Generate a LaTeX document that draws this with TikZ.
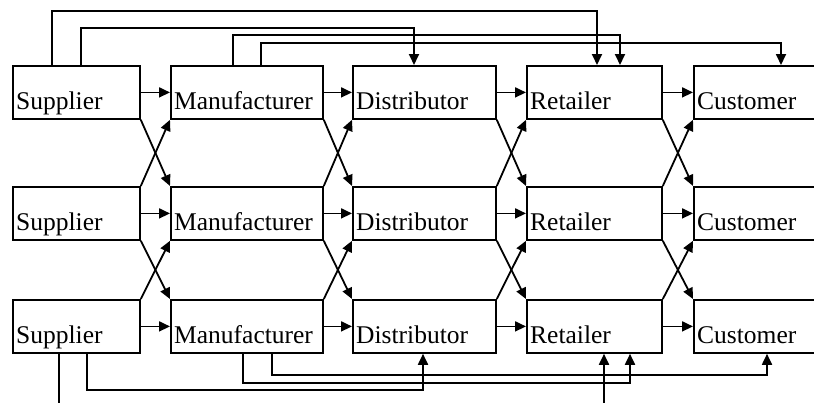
\documentclass[tikz,border=0pt]{standalone}
\usepackage{fontspec}
\setmainfont{Liberation Serif}
\usetikzlibrary{arrows.meta}
\tikzset{
  box/.style={draw, line width=1.8pt, minimum height=53pt, anchor=north west, inner sep=0pt},
  lbl/.style={anchor=base west, inner sep=0pt, font=\fontsize{25.5}{30}\selectfont},
  arr/.style={line width=1.8pt, -{Triangle[length=11pt,width=10pt]}},
}
\begin{document}
\begin{tikzpicture}[x=1pt,y=-1pt]
\clip (0,0) rectangle (814,402);
\fill[white] (0,0) rectangle (814,402);
% boxes
\foreach \r/\y in {1/65,2/186,3/299}{
  \node[box, minimum width=127pt] (s\r) at (12,\y) {};
  \node[box, minimum width=152pt] (m\r) at (170,\y) {};
  \node[box, minimum width=143pt] (d\r) at (352,\y) {};
  \node[box, minimum width=135pt] (r\r) at (526,\y) {};
  \node[box, minimum width=140pt] (c\r) at (693,\y) {};
  \node[lbl] (ts\r) at ([xshift=4pt,yshift=10.5pt]s\r.south west) {Supplier};
  \node[lbl] (tm\r) at ([xshift=4pt,yshift=10.5pt]m\r.south west) {Manufacturer};
  \node[lbl] (td\r) at ([xshift=4pt,yshift=10.5pt]d\r.south west) {Distributor};
  \node[lbl] (tr\r) at ([xshift=4pt,yshift=10.5pt]r\r.south west) {Retailer};
  \node[lbl] (tc\r) at ([xshift=4pt,yshift=10.5pt]c\r.south west) {Customer};
}
% horizontal and crossing arrows
\foreach \a/\b in {s/m,m/d,d/r,r/c}{
  \foreach \r in {1,2,3}{
    \draw[arr] (\a\r.east) -- (\b\r.west);
  }
  \draw[arr] (\a1.south east) -- (\b2.north west);
  \draw[arr] (\a2.north east) -- (\b1.south west);
  \draw[arr] (\a2.south east) -- (\b3.north west);
  \draw[arr] (\a3.north east) -- (\b2.south west);
}
% top links
\draw[arr] ([xshift=40pt]s1.north west) -- ++(0,-54) -| ([xshift=71pt]r1.north west);
\draw[arr] ([xshift=69pt]s1.north west) -- ++(0,-37) -| ([xshift=62pt]d1.north west);
\draw[arr] ([xshift=63pt]m1.north west) -- ++(0,-30) -| ([xshift=94pt]r1.north west);
\draw[arr] ([xshift=91pt]m1.north west) -- ++(0,-22) -| ([xshift=88pt]c1.north west);
% bottom links
\draw[arr] ([xshift=47pt]s3.south west) -- ++(0,67) -| ([xshift=78pt]r3.south west);
\draw[arr] ([xshift=75pt]s3.south west) -- ++(0,36) -| ([xshift=71pt]d3.south west);
\draw[arr] ([xshift=73pt]m3.south west) -- ++(0,29) -| ([xshift=104pt]r3.south west);
\draw[arr] ([xshift=102pt]m3.south west) -- ++(0,21) -| ([xshift=74pt]c3.south west);
\end{tikzpicture}
\end{document}
